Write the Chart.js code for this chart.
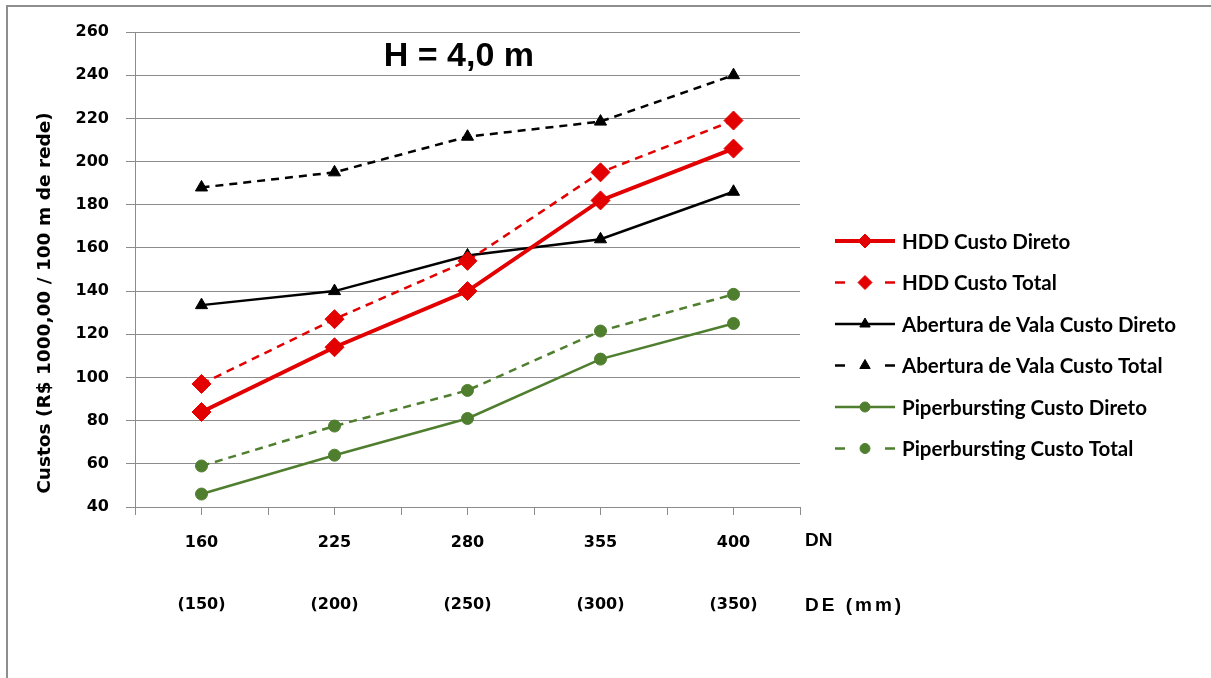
<!DOCTYPE html>
<html>
<head>
<meta charset="utf-8">
<script src="https://cdn.jsdelivr.net/npm/chart.js@4.4.1/dist/chart.umd.min.js"></script>
<style>
  html, body { margin: 0; padding: 0; background: #fff; overflow: hidden; }
  #frame { position: absolute; left: 6px; top: 5px; width: 1230px; height: 700px; border: 2px solid #8e8e8e; }
  #wrap { position: absolute; left: 0; top: 0; width: 1211px; height: 678px; }
</style>
</head>
<body>
<div id="frame"></div>
<div id="wrap"><canvas id="chart" width="1211" height="678"></canvas></div>
<script>
const DN_LABELS = ['160', '225', '280', '355', '400'];
const DE_LABELS = ['(150)', '(200)', '(250)', '(300)', '(350)'];

const hddDireto = [84, 114, 140, 182, 206];
const hddTotal = [97, 127, 154, 195, 219];
const valaDireto = [133.5, 140, 156.5, 164, 186];
const valaTotal = [188, 195, 211.5, 218.5, 240];
const pipeDireto = [46, 64, 81, 108.5, 125];
const pipeTotal = [59, 77.5, 94, 121.5, 138.5];

const Y_MIN = 40, Y_MAX = 260, Y_STEP = 20;

const RED = '#e30000';
const BLACK = '#000000';
const GREEN = '#4f7f2e';
const GRID = '#8c8c8c';
const TICK_FONT = '"DejaVu Sans", sans-serif';

// points sit in the middle of each category slot
function toPoints(values) {
    return values.map((v, i) => ({ x: i + 0.5, y: v }));
}

function series(label, values, color, width, dashed, style, radius) {
    return {
        label: label,
        data: toPoints(values),
        borderColor: color,
        backgroundColor: color,
        borderWidth: width,
        borderDash: dashed ? [8, 6] : [],
        pointStyle: style,
        pointRadius: radius,
        pointBorderWidth: 1,
        pointBorderColor: color,
        pointBackgroundColor: color,
        tension: 0
    };
}

const datasets = [
    series('HDD Custo Direto', hddDireto, RED, 4, false, 'rectRot', 9.5),
    series('HDD Custo Total', hddTotal, RED, 2.5, true, 'rectRot', 9.5),
    series('Abertura de Vala Custo Direto', valaDireto, BLACK, 2.5, false, 'triangle', 7),
    series('Abertura de Vala Custo Total', valaTotal, BLACK, 2.5, true, 'triangle', 7),
    series('Piperbursting Custo Direto', pipeDireto, GREEN, 2.5, false, 'circle', 6),
    series('Piperbursting Custo Total', pipeTotal, GREEN, 2.5, true, 'circle', 6)
];

const extrasPlugin = {
    id: 'extras',
    afterDraw(chart) {
        const ctx = chart.ctx;
        const area = chart.chartArea;
        ctx.save();

        // title inside the plot
        ctx.fillStyle = '#000';
        ctx.font = 'bold 34px "Liberation Sans", Arial, sans-serif';
        ctx.textAlign = 'center';
        ctx.textBaseline = 'middle';
        ctx.fillText('H = 4,0 m', area.left + (area.right - area.left) * 0.487, 57);

        // y axis title
        ctx.save();
        ctx.translate(45, 303);
        ctx.rotate(-Math.PI / 2);
        ctx.font = 'bold 18.5px ' + TICK_FONT;
        ctx.fillText('Custos (R$ 1000,00 / 100 m de rede)', 0, 0);
        ctx.restore();

        // DN / DE row captions
        ctx.textAlign = 'left';
        ctx.font = 'bold 19px "Liberation Sans", Arial, sans-serif';
        ctx.fillText('DN', area.right + 5, 541);
        ctx.letterSpacing = '3px';
        ctx.fillText('DE (mm)', area.right + 5, 606);
        ctx.letterSpacing = '0px';

        // legend: line with marker, then label
        const x0 = area.right + 35, x1 = area.right + 95;
        ctx.font = 'bold 20.5px Lato, sans-serif';
        chart.data.datasets.forEach((ds, i) => {
            const y = 241 + i * 41.5;
            ctx.strokeStyle = ds.borderColor;
            ctx.lineWidth = ds.borderDash.length ? 2.5 : ds.borderWidth;
            ctx.setLineDash(ds.borderDash.length ? [10, 40] : []);
            ctx.beginPath();
            ctx.moveTo(x0, y);
            ctx.lineTo(x1, y);
            ctx.stroke();
            ctx.setLineDash([]);
            ctx.fillStyle = ds.pointBackgroundColor;
            ctx.lineWidth = 1;
            const r = ds.pointStyle === 'rectRot' ? 7 : ds.pointStyle === 'triangle' ? 6 : 5;
            Chart.helpers.drawPoint(ctx, { pointStyle: ds.pointStyle, radius: r, borderWidth: 1, rotation: 0 }, (x0 + x1) / 2, y);
            ctx.fillStyle = '#000';
            ctx.textBaseline = 'middle';
            ctx.fillText(ds.label, x1 + 7, y + 1);
        });
        ctx.restore();
    }
};

new Chart(document.getElementById('chart'), {
    type: 'line',
    data: { datasets: datasets },
    options: {
        responsive: false,
        animation: false,
        layout: { padding: { left: 30, top: 32, right: 411, bottom: 41 } },
        plugins: {
            legend: { display: false },
            tooltip: { enabled: false }
        },
        scales: {
            x: {
                type: 'linear',
                min: 0,
                max: DN_LABELS.length,
                afterFit: s => { s.height = 130; },
                afterBuildTicks: s => {
                    const t = [];
                    for (let v = 0; v <= DN_LABELS.length; v += 0.5) t.push({ value: v });
                    s.ticks = t;
                },
                ticks: {
                    autoSkip: false,
                    maxRotation: 0,
                    minRotation: 0,
                    padding: 17,
                    color: '#000',
                    font: { family: TICK_FONT, size: 16, weight: 'bold', lineHeight: 1.3 },
                    callback: v => {
                        const i = Math.floor(v);
                        if (Math.abs(v - i - 0.5) > 0.01) return '';
                        return [DN_LABELS[i], '', '', DE_LABELS[i]];
                    }
                },
                grid: { drawOnChartArea: false, drawTicks: true, tickLength: 8, color: GRID, lineWidth: 1 },
                border: { color: GRID, width: 1 }
            },
            y: {
                min: Y_MIN,
                max: Y_MAX,
                afterFit: s => { s.width = 105; },
                ticks: {
                    stepSize: Y_STEP,
                    padding: 17,
                    color: '#000',
                    font: { family: TICK_FONT, size: 16, weight: 'bold' }
                },
                grid: { color: GRID, lineWidth: 1, tickLength: 9 },
                border: { color: GRID, width: 1 }
            }
        }
    },
    plugins: [extrasPlugin]
});
</script>
</body>
</html>
